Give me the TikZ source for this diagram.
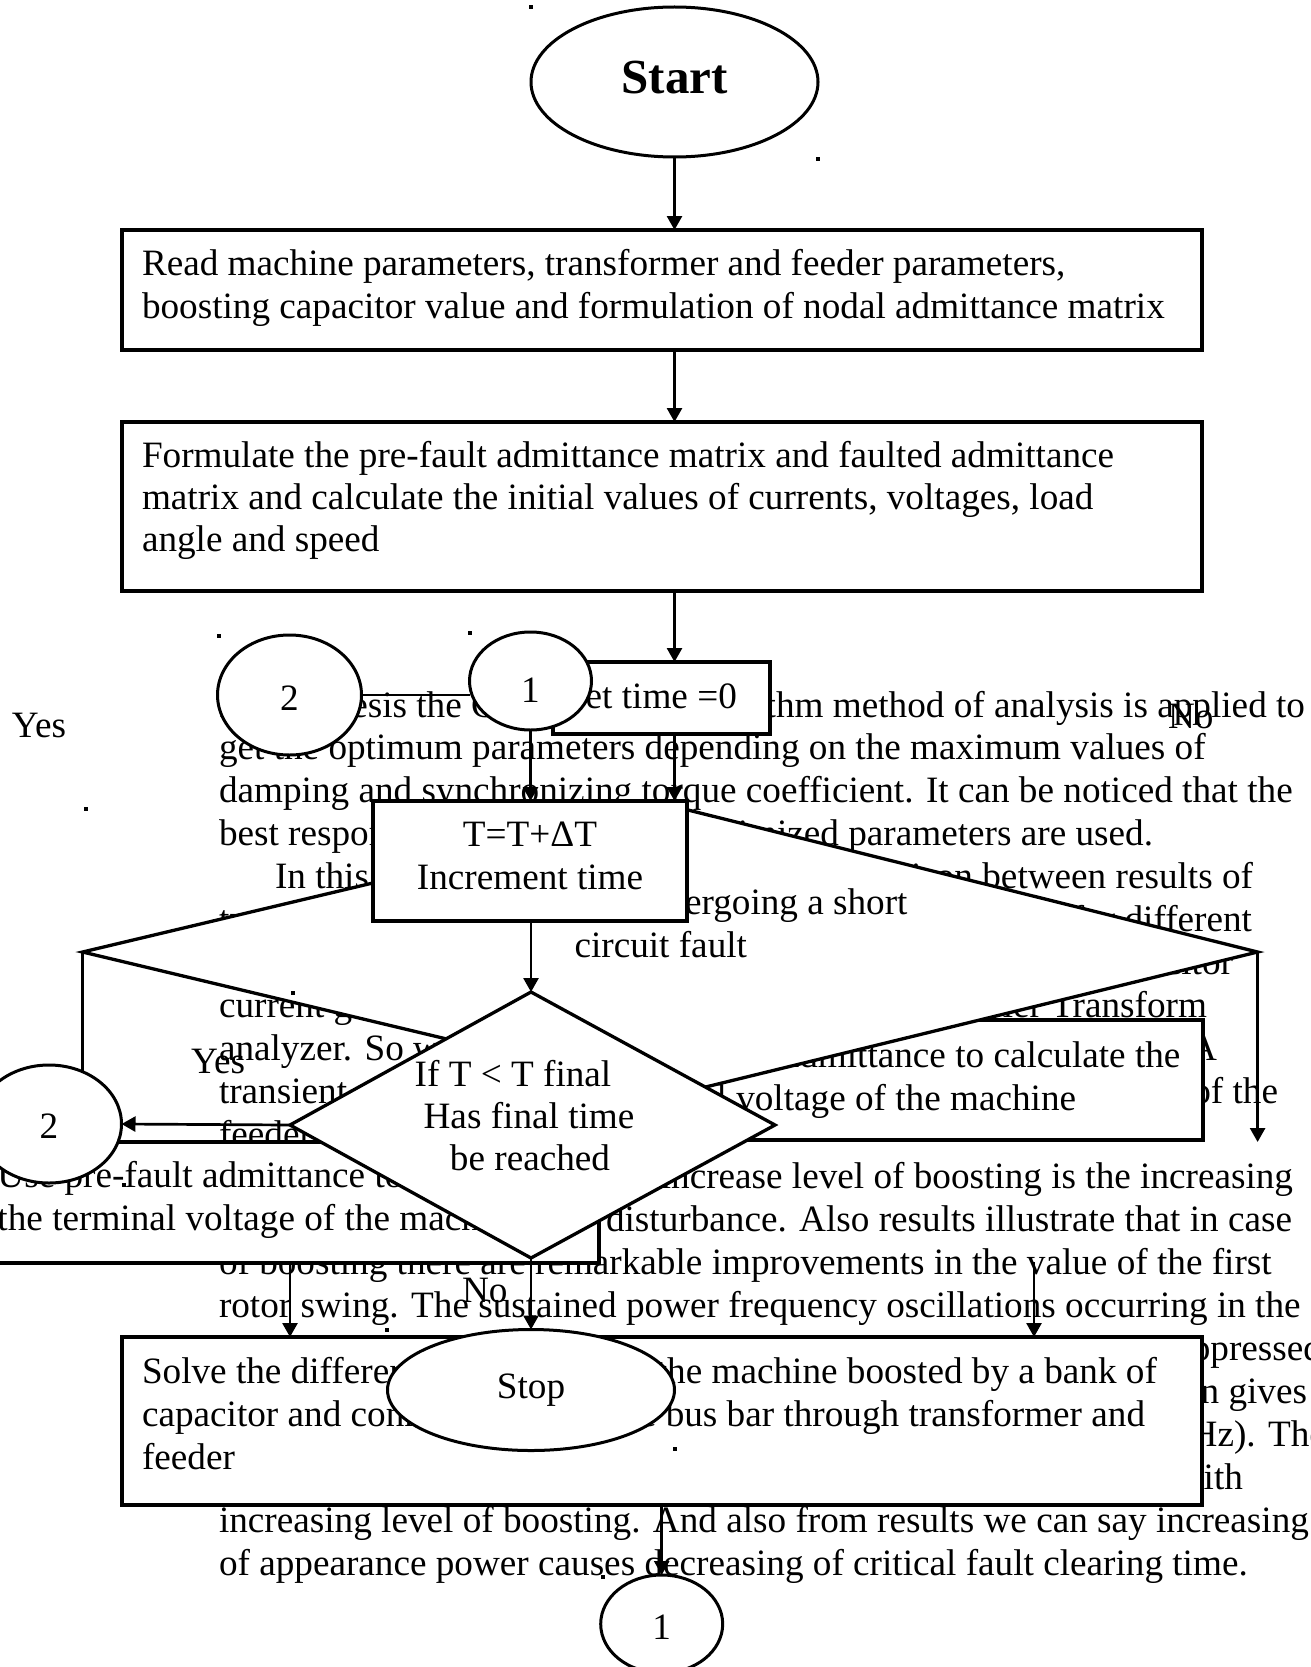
\documentclass[tikz,border=0pt]{standalone}
\usepackage{fontspec}
\setmainfont{Liberation Serif}
\usetikzlibrary{shapes.geometric,arrows.meta,calc}
\begin{document}
\begin{tikzpicture}[x=1pt,y=-1pt,
  font=\fontsize{37.2}{42.8}\selectfont,
  shp/.style={draw=black, line width=3.3pt, fill=white, inner sep=0pt, outer sep=0pt},
  rbox/.style={shp, rectangle},
  oval/.style={shp, ellipse, line width=3pt},
  txt/.style={inner sep=0pt, outer sep=0pt, anchor=base west},
  rtxt/.style={inner sep=0pt, outer sep=0pt, anchor=base east},
  ctxt/.style={inner sep=0pt, outer sep=0pt, anchor=base},
  conn/.style={draw=black, line width=2.7pt},
  arr/.style={conn, -{Triangle[length=14pt,width=15pt]}},
  dot/.style={fill=black}]
\useasboundingbox (0,0) rectangle (1311,1667);
\fill[white] (0,0) rectangle (1311,1667);

% ---------- background paragraph text ----------
\node[txt]  (p1a) at (219,717) {In this thesis the Cuckoo};
\node[rtxt] (p1b) at (1305,717) {Search Algorithm method of analysis is applied to};
\node[txt]  (p2)  at (219,759.9) {get the optimum parameters depending on the maximum values of};
\node[txt]  (p3)  at (219,802.8) {damping and synchronizing torque coefficient. It can be noticed that the};
\node[txt]  (p4a) at (219,845.7) {best response is when the};
\node[rtxt] (p4b) at (1153,845.7) {optimized parameters are used.};
\node[txt]  (p5a) at (275,888.6) {In this paper a};
\node[rtxt] (p5b) at (1253,888.6) {comparison between results of};
\node[txt]  (p6a) at (219,931.5) {transient stability};
\node[rtxt] (p6b) at (1252,931.5) {for different};
\node[rtxt] (p7)  at (1233,974.4) {capacitor};
\node[txt]  (p8a) at (219,1017.3) {current generated};
\node[rtxt] (p8b) at (1207,1017.3) {Fourier Transform};
\node[txt]  (p9a) at (219,1060.2) {analyzer. So we};
\node[txt]  (p9b) at (1190,1060.2) {A};
\node[txt]  (p10a) at (219,1103.1) {transient stability};
\node[rtxt] (p10b) at (1278,1103.1) {voltage of the};
\node[txt]  (p11) at (219,1146) {feeder};
\node[rtxt] (p12) at (1293,1188.9) {increase level of boosting is the increasing};
\node[rtxt] (p13) at (1292,1231.8) {disturbance. Also results illustrate that in case};
\node[txt]  (p14) at (219,1274.7) {of boosting there are remarkable improvements in the value of the first};
\node[txt]  (p15) at (219,1317.6) {rotor swing. The sustained power frequency oscillations occurring in the};
\node[rtxt] (p16) at (1322,1360.5) {suppressed};
\node[rtxt] (p17) at (1307,1403.4) {simulation gives};
\node[rtxt] (p18) at (1326,1446.3) {Hz). The};
\node[rtxt] (p19) at (1243,1489.2) {with};
\node[txt]  (p20) at (219,1532.1) {increasing level of boosting. And also from results we can say increasing};
\node[txt]  (p21) at (219,1575) {of appearance power causes decreasing of critical fault clearing time.};

% ---------- faulted admittance box ----------
\node[rbox, minimum width=622pt, minimum height=120pt] (boxB) at (892,1080) {};
\node[txt] (bB1) at (603,1067) {Use faulted admittance to calculate the};
\node[txt] (bB2) at (603,1110) {terminal voltage of the machine};

% ---------- big decision diamond ----------
\coordinate (bdL) at (82.6,952);
\coordinate (bdT) at (684,809);
\coordinate (bdR) at (1257.6,952);
\coordinate (bdB) at (677,1094);
\path[shp] (bdL) -- (bdT) -- (bdR) -- (bdB) -- cycle;
\node[rtxt] (bd1) at (907.5,914) {Is the machine undergoing a short};
\node[txt]  (bd2) at (574.5,957) {circuit fault};

% ---------- pre-fault admittance box ----------
\node[rbox, minimum width=622pt, minimum height=121pt] (boxA) at (288,1202.5) {};
\node[txt] (bA1) at (-2.5,1187) {Use pre-fault admittance to calculate};
\node[txt] (bA2) at (-2.5,1230) {the terminal voltage of the machine};

% ---------- solve box ----------
\node[rbox, minimum width=1080pt, minimum height=168pt] (solve) at (662,1421) {};
\node[txt] (s1) at (142,1383) {Solve the differential equations of the machine boosted by a bank of};
\node[txt] (s2) at (142,1426) {capacitor and connected to infinite bus bar through transformer and};
\node[txt] (s3) at (142,1469) {feeder};

% ---------- top boxes ----------
\node[rbox, minimum width=1080pt, minimum height=120pt] (box1) at (662,290) {};
\node[txt] (b1a) at (142,275.5) {Read machine parameters, transformer and feeder parameters,};
\node[txt] (b1b) at (142,318) {boosting capacitor value and formulation of nodal admittance matrix};
\node[rbox, minimum width=1080pt, minimum height=169pt] (box2) at (662,506.5) {};
\node[txt] (b2a) at (142,467) {Formulate the pre-fault admittance matrix and faulted admittance};
\node[txt] (b2b) at (142,509) {matrix and calculate the initial values of currents, voltages, load};
\node[txt] (b2c) at (142,551) {angle and speed};

% ---------- set time box ----------
\node[rbox, minimum width=217pt, minimum height=72pt] (settime) at (661.5,698) {};
\node[txt] (stt) at (565,708) {Set time =0};

% ---------- increment box ----------
\node[rbox, minimum width=314pt, minimum height=120pt] (inc) at (530,861) {};
\node[ctxt] (inc1) at (530,846) {T=T+ΔT};
\node[ctxt] (inc2) at (530,889) {Increment time};

% ---------- small decision diamond ----------
\coordinate (sdT) at (531,992);
\coordinate (sdR) at (775,1125);
\coordinate (sdB) at (531,1258);
\coordinate (sdL) at (290,1125);
\path[shp] (sdT) -- (sdR) -- (sdB) -- (sdL) -- cycle;
\node[ctxt] (sd1) at (513,1086) {If T \textless{} T final};
\node[ctxt] (sd2) at (529,1128) {Has final time};
\node[ctxt] (sd3) at (530,1170) {be reached};

% ---------- ovals ----------
\node[oval, minimum width=287pt, minimum height=150pt] (start) at (674.5,82) {};
\node[ctxt, font=\fontsize{49}{56}\selectfont\bfseries] (startt) at (674.5,94) {Start};
\node[oval, minimum width=144pt, minimum height=120pt] (c2top) at (289.5,695) {};
\node[ctxt] (c2topt) at (289.5,710) {2};
\node[oval, minimum width=122pt, minimum height=98pt] (c1top) at (530.5,681) {};
\node[ctxt] (c1topt) at (530.5,702) {1};
\node[oval, minimum width=145pt, minimum height=118pt] (c2left) at (49,1124) {};
\node[ctxt] (c2leftt) at (49,1138) {2};
\node[oval, minimum width=287pt, minimum height=121pt] (stop) at (531,1390) {};
\node[ctxt] (stopt) at (531,1398) {Stop};
\node[oval, minimum width=122pt, minimum height=98pt] (c1bot) at (661.7,1624) {};
\node[ctxt] (c1bott) at (661.7,1639) {1};

% ---------- connectors ----------
\coordinate (rEnd) at (1257.6,1142);
\coordinate (rStart) at (1034,1262);
\draw[arr] (start.south) -- (start.south |- box1.north);
\draw[arr] (box1.south -| start) -- (box2.north -| start);
\draw[arr] (box2.south -| start) -- (settime.north -| start);
\draw[arr] (settime.south -| start) -- (inc.north -| start);
\draw[conn] (c2top.east) -- (c2top.east -| c1top.west);
\draw[arr] (c1top.south) -- (c1top.south |- inc.north);
\draw[arr] (sdT |- inc.south) -- (sdT);
\draw[conn] (bdL) -- (bdL |- c2left.57);
\draw[arr] (sdL) -- (c2left.east);
\draw[arr] (bdR) -- (rEnd);
\draw[arr] (sdB) -- (stop.north);
\draw[arr] (boxA.south -| sdL) -- (solve.north -| sdL);
\draw[arr] (rStart) -- (rStart |- solve.north);
\draw[arr] (solve.south -| c1bot) -- (c1bot.north);

% ---------- labels ----------
\node[txt] (yes1) at (12,737) {Yes};
\node[txt] (yes2) at (191,1073) {Yes};
\node[txt] (no1) at (1168,728) {No};
\node[txt] (no2) at (462,1302) {No};

% ---------- stray dots ----------
\foreach \dx/\dy in {531/7, 818/159, 219/636, 470/633, 86/809, 293/993, 387/1330, 675/1449, 603/1577, 124/1185}
  \fill[dot] (\dx-1.8,\dy-1.8) rectangle ++(3.6,3.6);
\end{tikzpicture}
\end{document}
